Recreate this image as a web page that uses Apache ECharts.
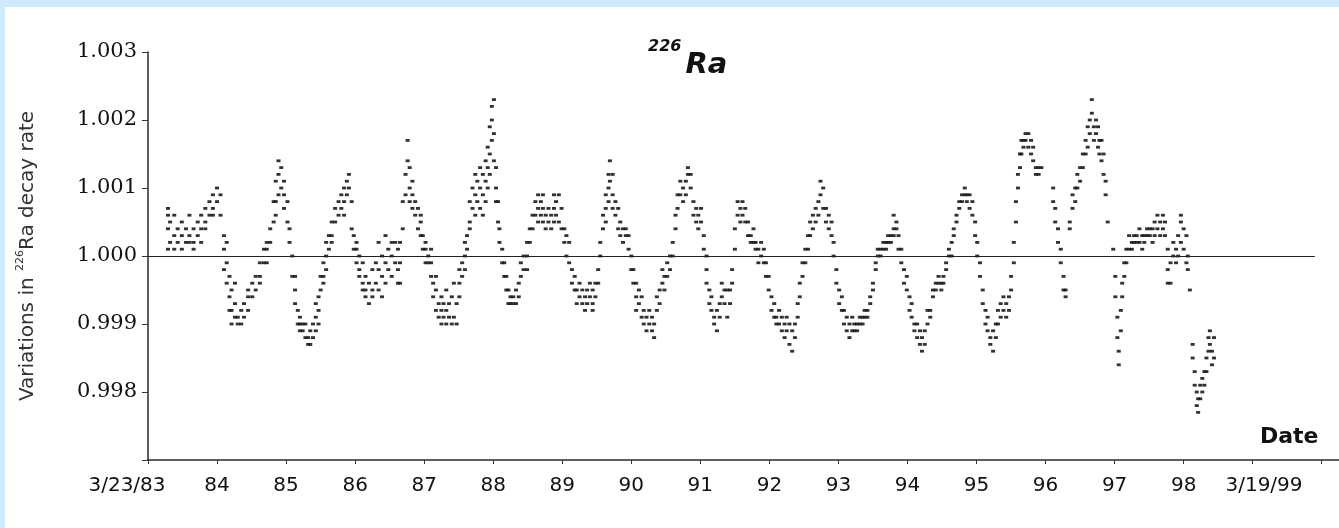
<!DOCTYPE html>
<html>
<head>
<meta charset="utf-8">
<title>226Ra decay rate</title>
<script src="https://cdn.jsdelivr.net/npm/echarts@6/dist/echarts.min.js"></script>
<style>
  html, body { margin: 0; padding: 0; background: #cdebfb; }
  #chart { position: absolute; left: 5px; top: 7px; width: 1334px; height: 521px; background: #ffffff; }
</style>
</head>
<body>
<div id="chart"></div>
<script>
// Relative 226Ra decay rate readings. Each row: [time (decimal year), reading, reading, ...]
const obs1983 = [
  [1983.51,1.0001,1.0004,1.0007,1.0006],[1983.54,1.0002,1.0005],[1983.60,1.0003,1.0001,1.0006],
  [1983.65,1.0002,1.0004],[1983.71,1.0003,1.0001,1.0005],[1983.77,1.0002,1.0004],
  [1983.82,1.0003,1.0006,1.0002],[1983.88,1.0002,1.0004,1.0001],[1983.94,1.0003,1.0005],
  [1983.99,1.0004,1.0002,1.0006]
];
const obs1984 = [
  [1984.05,1.0005,1.0007,1.0004],[1984.11,1.0006,1.0008],[1984.16,1.0007,1.0009,1.0006],
  [1984.22,1.0010,1.0008],[1984.27,1.0009,1.0006],[1984.32,1.0003,1.0001,0.9998],
  [1984.36,1.0002,0.9999,0.9996],[1984.40,0.9997,0.9994,0.9992],[1984.43,0.9995,0.9992,0.9990],
  [1984.48,0.9993,0.9991,0.9996],[1984.52,0.9991,0.9990],[1984.57,0.9990,0.9992],
  [1984.61,0.9991,0.9993],[1984.67,0.9992,0.9994,0.9995],[1984.73,0.9994,0.9996],
  [1984.78,0.9995,0.9997],[1984.84,0.9997,0.9999,0.9996],[1984.90,0.9999,1.0001],
  [1984.94,1.0001,1.0002,0.9999],[1984.99,1.0002,1.0004]
];
const obs1985 = [
  [1985.04,1.0005,1.0008],[1985.07,1.0008,1.0011,1.0006],[1985.11,1.0012,1.0014,1.0009],
  [1985.15,1.0010,1.0013],[1985.19,1.0009,1.0011,1.0007],[1985.24,1.0008,1.0005],
  [1985.27,1.0004,1.0002],[1985.31,1.0000,0.9997],[1985.35,0.9995,0.9993,0.9997],
  [1985.39,0.9992,0.9990],[1985.42,0.9989,0.9991,0.9990],[1985.46,0.9990,0.9989],
  [1985.50,0.9988,0.9990],[1985.54,0.9988,0.9987],[1985.57,0.9987,0.9989],
  [1985.61,0.9988,0.9990],[1985.65,0.9989,0.9991,0.9993],[1985.69,0.9992,0.9994,0.9990],
  [1985.72,0.9995,0.9997],[1985.76,0.9997,0.9999,0.9996],[1985.80,1.0000,0.9998,1.0002],
  [1985.84,1.0001,1.0003],[1985.88,1.0003,1.0005,1.0002],[1985.93,1.0005,1.0007],
  [1985.98,1.0006,1.0008]
];
const obs1986 = [
  [1986.02,1.0007,1.0009],[1986.06,1.0006,1.0010,1.0008],[1986.10,1.0011,1.0009],
  [1986.13,1.0012,1.0010],[1986.17,1.0008,1.0004],[1986.20,1.0003,1.0001],
  [1986.24,1.0002,0.9999,1.0001],[1986.28,0.9998,0.9997,1.0000],[1986.33,0.9996,0.9995,0.9999],
  [1986.37,0.9994,0.9997,0.9995],[1986.42,0.9993,0.9996],[1986.47,0.9995,0.9998,0.9994],
  [1986.52,0.9996,0.9999],[1986.56,0.9995,0.9998,1.0002],[1986.61,0.9997,1.0000,0.9994],
  [1986.66,0.9996,0.9999,1.0003],[1986.70,0.9998,1.0001],[1986.75,0.9997,1.0000,1.0002],
  [1986.80,0.9999,1.0002],[1986.84,0.9998,1.0001,0.9996],[1986.87,1.0002,0.9999,0.9996],
  [1986.91,1.0004,1.0008],[1986.95,1.0012,1.0009],[1986.98,1.0017,1.0014]
];
const obs1987 = [
  [1987.01,1.0013,1.0010,1.0008],[1987.05,1.0011,1.0009,1.0007],[1987.09,1.0008,1.0006],
  [1987.13,1.0007,1.0004],[1987.17,1.0005,1.0003,1.0006],[1987.20,1.0003,1.0001],
  [1987.24,1.0001,0.9999,1.0002],[1987.28,1.0000,0.9999],[1987.32,0.9999,0.9997,1.0001],
  [1987.35,0.9996,0.9994],[1987.39,0.9995,0.9992,0.9997],[1987.43,0.9993,0.9991],
  [1987.47,0.9992,0.9994,0.9990],[1987.50,0.9991,0.9993],[1987.54,0.9992,0.9990,0.9995],
  [1987.58,0.9991,0.9993],[1987.62,0.9990,0.9994],[1987.65,0.9991,0.9996],
  [1987.69,0.9990,0.9993],[1987.73,0.9996,0.9998,0.9994],[1987.77,0.9999,0.9997],
  [1987.81,1.0000,1.0002,0.9998],[1987.84,1.0003,1.0001],[1987.88,1.0005,1.0008,1.0004],
  [1987.92,1.0007,1.0010],[1987.96,1.0009,1.0006,1.0012],[1987.99,1.0008,1.0011]
];
const obs1988 = [
  [1988.03,1.0010,1.0013,1.0007],[1988.07,1.0012,1.0009,1.0006],[1988.11,1.0014,1.0011,1.0008],
  [1988.14,1.0016,1.0013,1.0010],[1988.17,1.0019,1.0015,1.0012],[1988.20,1.0022,1.0020,1.0017],
  [1988.23,1.0023,1.0018,1.0014],[1988.26,1.0013,1.0010,1.0008],[1988.29,1.0008,1.0005],
  [1988.31,1.0004,1.0002],[1988.35,1.0001,0.9999],[1988.38,0.9999,0.9997],
  [1988.41,0.9997,0.9995],[1988.44,0.9995,0.9993],[1988.47,0.9993,0.9994],
  [1988.51,0.9994,0.9993],[1988.55,0.9995,0.9993],[1988.59,0.9996,0.9994],
  [1988.62,0.9997,0.9999],[1988.66,0.9998,1.0000],[1988.71,1.0000,1.0002,0.9998],
  [1988.75,1.0002,1.0004],[1988.79,1.0004,1.0006],[1988.83,1.0006,1.0008],
  [1988.87,1.0007,1.0009,1.0005],[1988.91,1.0008,1.0006],[1988.94,1.0009,1.0007,1.0005],
  [1988.98,1.0006,1.0004]
];
const obs1989 = [
  [1989.02,1.0005,1.0007],[1989.06,1.0004,1.0006],[1989.10,1.0005,1.0007,1.0009],
  [1989.13,1.0008,1.0006],[1989.17,1.0009,1.0005],[1989.21,1.0007,1.0004],
  [1989.25,1.0004,1.0002],[1989.28,1.0003,1.0000],[1989.32,1.0002,0.9999],
  [1989.36,0.9998,0.9996],[1989.40,0.9997,0.9995],[1989.43,0.9995,0.9993],
  [1989.47,0.9994,0.9996],[1989.51,0.9993,0.9995],[1989.55,0.9994,0.9992],
  [1989.58,0.9995,0.9993],[1989.62,0.9994,0.9996],[1989.66,0.9993,0.9995,0.9992],
  [1989.70,0.9994,0.9996],[1989.74,0.9996,0.9998],[1989.77,1.0000,1.0002],
  [1989.81,1.0004,1.0006],[1989.85,1.0007,1.0009,1.0005],[1989.89,1.0010,1.0012,1.0008],
  [1989.91,1.0014,1.0011],[1989.95,1.0012,1.0009,1.0007],[1989.99,1.0008,1.0006]
];
const obs1990 = [
  [1990.03,1.0007,1.0004],[1990.06,1.0005,1.0003],[1990.10,1.0004,1.0002],
  [1990.14,1.0003,1.0004],[1990.18,1.0003,1.0001],[1990.22,1.0000,0.9998],
  [1990.25,0.9996,0.9998],[1990.29,0.9994,0.9996,0.9992],[1990.33,0.9993,0.9995],
  [1990.37,0.9991,0.9994],[1990.40,0.9992,0.9990],[1990.44,0.9991,0.9989],
  [1990.48,0.9990,0.9992],[1990.52,0.9989,0.9991],[1990.55,0.9988,0.9990],
  [1990.59,0.9992,0.9994],[1990.63,0.9995,0.9993],[1990.67,0.9996,0.9998],
  [1990.70,0.9997,0.9995],[1990.74,0.9999,0.9997],[1990.78,1.0000,0.9998],
  [1990.82,1.0002,1.0000],[1990.86,1.0004,1.0006],[1990.89,1.0007,1.0009],
  [1990.93,1.0009,1.0011],[1990.97,1.0010,1.0008]
];
const obs1991 = [
  [1991.01,1.0011,1.0009],[1991.04,1.0013,1.0012],[1991.08,1.0012,1.0010],
  [1991.12,1.0006,1.0008],[1991.16,1.0007,1.0005],[1991.19,1.0006,1.0004],
  [1991.23,1.0005,1.0007],[1991.27,1.0003,1.0001],[1991.31,1.0000,0.9998,0.9996],
  [1991.35,0.9995,0.9993],[1991.38,0.9992,0.9994],[1991.42,0.9991,0.9990],
  [1991.46,0.9989,0.9992],[1991.50,0.9993,0.9991],[1991.53,0.9994,0.9996],
  [1991.57,0.9993,0.9995],[1991.61,0.9995,0.9991],[1991.65,0.9993,0.9995],
  [1991.68,0.9996,0.9998],[1991.72,1.0001,1.0004],[1991.76,1.0006,1.0008],
  [1991.80,1.0007,1.0005],[1991.83,1.0006,1.0008],[1991.87,1.0005,1.0007],
  [1991.91,1.0003,1.0005],[1991.95,1.0003,1.0002],[1991.99,1.0004,1.0002]
];
const obs1992 = [
  [1992.02,1.0002,1.0001],[1992.06,1.0001,0.9999],[1992.10,1.0000,1.0002],
  [1992.14,0.9999,1.0001],[1992.17,0.9997,0.9999],[1992.21,0.9995,0.9997],
  [1992.25,0.9994,0.9992],[1992.29,0.9993,0.9991],[1992.32,0.9991,0.9990],
  [1992.36,0.9990,0.9992],[1992.40,0.9989,0.9991],[1992.44,0.9990,0.9988],
  [1992.47,0.9989,0.9991],[1992.51,0.9987,0.9990],[1992.55,0.9986,0.9989],
  [1992.59,0.9988,0.9990],[1992.63,0.9991,0.9993],[1992.66,0.9994,0.9996],
  [1992.70,0.9997,0.9999],[1992.74,0.9999,1.0001],[1992.78,1.0001,1.0003],
  [1992.81,1.0003,1.0005],[1992.85,1.0004,1.0006],[1992.89,1.0005,1.0007],
  [1992.93,1.0008,1.0006],[1992.96,1.0011,1.0009]
];
const obs1993 = [
  [1993.00,1.0010,1.0007],[1993.04,1.0007,1.0005],[1993.08,1.0006,1.0004],
  [1993.12,1.0005,1.0003],[1993.15,1.0002,1.0000],[1993.19,0.9998,0.9996],
  [1993.23,0.9995,0.9993],[1993.27,0.9992,0.9994],[1993.30,0.9990,0.9992],
  [1993.34,0.9989,0.9991],[1993.38,0.9990,0.9988],[1993.42,0.9989,0.9991],
  [1993.45,0.9989,0.9990],[1993.49,0.9990,0.9989],[1993.53,0.9990,0.9991],
  [1993.57,0.9991,0.9990],[1993.60,0.9991,0.9992],[1993.64,0.9992,0.9991],
  [1993.68,0.9993,0.9994],[1993.72,0.9995,0.9996],[1993.76,0.9998,0.9999],
  [1993.79,1.0000,1.0001],[1993.83,1.0001,1.0000],[1993.87,1.0001,1.0002],
  [1993.91,1.0002,1.0001],[1993.94,1.0002,1.0003],[1993.98,1.0003,1.0002]
];
const obs1994 = [
  [1994.02,1.0003,1.0004,1.0006],[1994.06,1.0005,1.0004],[1994.09,1.0003,1.0001],
  [1994.13,1.0001,0.9999],[1994.17,0.9998,0.9996],[1994.21,0.9995,0.9997],
  [1994.25,0.9994,0.9992],[1994.28,0.9991,0.9993],[1994.32,0.9990,0.9989],
  [1994.36,0.9988,0.9990],[1994.40,0.9987,0.9989],[1994.43,0.9986,0.9988],
  [1994.47,0.9987,0.9989],[1994.51,0.9990,0.9992],[1994.55,0.9992,0.9991],
  [1994.59,0.9994,0.9995],[1994.63,0.9996,0.9995],[1994.67,0.9996,0.9997],
  [1994.71,0.9995,0.9996],[1994.74,0.9997,0.9996],[1994.78,0.9998,0.9999],
  [1994.82,1.0000,1.0001],[1994.86,1.0002,1.0000],[1994.89,1.0004,1.0003],
  [1994.93,1.0006,1.0005],[1994.97,1.0007,1.0008]
];
const obs1995 = [
  [1995.01,1.0009,1.0008],[1995.05,1.0009,1.0010],[1995.08,1.0008,1.0009],
  [1995.12,1.0009,1.0007],[1995.16,1.0008,1.0006],[1995.20,1.0005,1.0003],
  [1995.23,1.0002,1.0000],[1995.27,0.9999,0.9997],[1995.31,0.9995,0.9993],
  [1995.35,0.9992,0.9990],[1995.38,0.9989,0.9991],[1995.42,0.9988,0.9987],
  [1995.46,0.9986,0.9989],[1995.50,0.9988,0.9990],[1995.53,0.9990,0.9992],
  [1995.57,0.9991,0.9993],[1995.61,0.9992,0.9994],[1995.65,0.9993,0.9991],
  [1995.69,0.9992,0.9994],[1995.72,0.9995,0.9997],[1995.76,0.9999,1.0002],
  [1995.79,1.0005,1.0008],[1995.82,1.0010,1.0012],[1995.85,1.0013,1.0015],
  [1995.87,1.0015,1.0017],[1995.90,1.0017,1.0016],[1995.93,1.0018,1.0017],
  [1995.97,1.0016,1.0018]
];
const obs1996 = [
  [1996.01,1.0017,1.0015],[1996.04,1.0014,1.0016],[1996.08,1.0013,1.0012],
  [1996.12,1.0013,1.0012],[1996.16,1.0013],[1996.33,1.0010,1.0008],
  [1996.36,1.0007,1.0005],[1996.40,1.0004,1.0002],[1996.44,1.0001,0.9999],
  [1996.48,0.9997,0.9995],[1996.51,0.9995,0.9994],[1996.57,1.0005,1.0004],
  [1996.61,1.0007,1.0009],[1996.65,1.0010,1.0008],[1996.68,1.0012,1.0010],
  [1996.72,1.0013,1.0011],[1996.76,1.0015,1.0013],[1996.80,1.0017,1.0015],
  [1996.83,1.0019,1.0016],[1996.86,1.0020,1.0018],[1996.89,1.0023,1.0021],
  [1996.92,1.0019,1.0017],[1996.95,1.0020,1.0018],[1996.98,1.0016,1.0019]
];
const obs1997 = [
  [1997.00,1.0015,1.0017],[1997.03,1.0017,1.0014],[1997.06,1.0015,1.0012],
  [1997.09,1.0011,1.0009],[1997.12,1.0005],[1997.20,1.0001],[1997.23,0.9997,0.9994],
  [1997.26,0.9991,0.9988],[1997.28,0.9986,0.9984],[1997.31,0.9989,0.9992],
  [1997.33,0.9994,0.9996],[1997.36,0.9997,0.9999],[1997.39,0.9999,1.0001],
  [1997.43,1.0001,1.0003],[1997.47,1.0002,1.0001],[1997.50,1.0003,1.0002],
  [1997.54,1.0002,1.0003],[1997.58,1.0002,1.0004],[1997.62,1.0003,1.0001],
  [1997.65,1.0002,1.0003],[1997.69,1.0003,1.0004],[1997.73,1.0003,1.0004],
  [1997.77,1.0004,1.0002],[1997.80,1.0003,1.0005],[1997.84,1.0004,1.0006],
  [1997.88,1.0005,1.0003],[1997.92,1.0004,1.0006],[1997.95,1.0005,1.0003],
  [1997.99,0.9998,0.9996,1.0001]
];
const obs1998 = [
  [1998.03,0.9996,0.9999],[1998.07,1.0000,1.0002],[1998.11,1.0001,0.9999],
  [1998.14,1.0000,1.0003],[1998.18,1.0005,1.0006,1.0002],[1998.22,1.0004,1.0001],
  [1998.26,1.0003,0.9999],[1998.28,1.0000,0.9998],[1998.31,0.9995],
  [1998.35,0.9987,0.9985],[1998.38,0.9983,0.9981],[1998.41,0.9980,0.9978],
  [1998.43,0.9979,0.9977],[1998.46,0.9981,0.9979],[1998.49,0.9980,0.9982],
  [1998.52,0.9983,0.9981],[1998.55,0.9985,0.9983],[1998.58,0.9986,0.9988],
  [1998.60,0.9987,0.9989],[1998.63,0.9984,0.9986],[1998.66,0.9985,0.9988]
];

// Date axis: yearly ticks counted from the 3/23/83 start, and their labels
const tickYears = [1983.22, 1984.22, 1985.22, 1986.22, 1987.22, 1988.22, 1989.22, 1990.22, 1991.22,
                   1992.22, 1993.22, 1994.22, 1995.22, 1996.22, 1997.22, 1998.22, 1999.21];
const tickLabels = ['3/23/83', '84', '85', '86', '87', '88', '89', '90', '91',
                    '92', '93', '94', '95', '96', '97', '98', '3/19/99'];
const trailingTick = 2000.22;
const timeRange = [1983.22, 2000.47];
const rateRange = [0.997, 1.003];
const rateStep = 0.001;
const unityLineEnd = 2000.12;

const runs = [obs1983, obs1984, obs1985, obs1986, obs1987, obs1988, obs1989, obs1990, obs1991,
              obs1992, obs1993, obs1994, obs1995, obs1996, obs1997, obs1998];
const points = [];
runs.forEach(run => run.forEach(row => {
  for (let i = 1; i < row.length; i++) points.push([row[0], row[i]]);
}));

function labelFor(v) {
  for (let i = 0; i < tickYears.length; i++) {
    if (Math.abs(tickYears[i] - v) < 0.005) {
      if (i === 0) return '{first|' + tickLabels[i] + '}';
      if (i === tickYears.length - 1) return '{last|' + tickLabels[i] + '}';
      return tickLabels[i];
    }
  }
  return '';
}

const sansLabel = { fontFamily: 'DejaVu Sans', fontSize: 20, color: '#111' };

const chart = echarts.init(document.getElementById('chart'), null, { renderer: 'canvas' });
chart.setOption({
  animation: false,
  backgroundColor: '#ffffff',
  title: {
    text: '{sup|226}{el|Ra}',
    left: 643,
    top: 32,
    padding: 0,
    textStyle: {
      rich: {
        sup: { fontFamily: 'DejaVu Sans', fontWeight: 'bold', fontStyle: 'italic', fontSize: 16,
               lineHeight: 18, verticalAlign: 'top', color: '#111' },
        el: { fontFamily: 'DejaVu Sans', fontWeight: 'bold', fontStyle: 'italic', fontSize: 29,
              lineHeight: 41, verticalAlign: 'bottom', padding: [0, 0, 0, 4], color: '#111' }
      }
    }
  },
  graphic: [{
    type: 'text', left: 1255, top: 419,
    style: { text: 'Date', font: 'bold 22px "DejaVu Sans"', fill: '#111' }
  }],
  grid: { left: 143, right: 0, top: 45, bottom: 68, containLabel: false },
  xAxis: {
    type: 'value',
    min: timeRange[0],
    max: timeRange[1],
    axisLine: { show: true, onZero: false, lineStyle: { color: '#2a2a2a', width: 1.5 } },
    axisTick: { show: true, customValues: tickYears.concat([trailingTick]), length: 4,
                lineStyle: { color: '#333', width: 1 } },
    axisLabel: {
      customValues: tickYears, formatter: labelFor, margin: 16,
      fontFamily: sansLabel.fontFamily, fontSize: sansLabel.fontSize, color: sansLabel.color,
      rich: {
        first: Object.assign({ padding: [0, 42, 0, 0] }, sansLabel),
        last: Object.assign({ padding: [0, 0, 0, 24] }, sansLabel)
      }
    },
    splitLine: { show: false }
  },
  yAxis: {
    type: 'value',
    min: rateRange[0],
    max: rateRange[1],
    interval: rateStep,
    name: '{t|Variations in }{s|226}{t|Ra decay rate}',
    nameLocation: 'middle',
    nameRotate: 90,
    nameGap: 108,
    nameTextStyle: {
      rich: {
        t: { fontFamily: 'DejaVu Sans', fontSize: 20, lineHeight: 25, color: '#333' },
        s: { fontFamily: 'DejaVu Sans', fontSize: 11, lineHeight: 11, verticalAlign: 'top', color: '#333' }
      }
    },
    axisLine: { show: true, onZero: false, lineStyle: { color: '#2a2a2a', width: 1.5 } },
    axisTick: { show: true, length: 6, lineStyle: { color: '#333', width: 1 } },
    axisLabel: {
      formatter: v => (v < rateRange[0] + rateStep / 2 ? '' : v.toFixed(3)),
      fontFamily: 'DejaVu Serif', fontSize: 21, color: '#111', margin: 11
    },
    splitLine: { show: false }
  },
  series: [{
    type: 'scatter',
    data: points,
    symbol: 'rect',
    symbolSize: [4, 2.8],
    itemStyle: { color: '#1c1c1c', opacity: 0.9 },
    silent: true,
    markLine: {
      silent: true,
      symbol: ['none', 'none'],
      label: { show: false },
      lineStyle: { color: '#222', width: 1.2, type: 'solid' },
      data: [[{ coord: [timeRange[0], 1] }, { coord: [unityLineEnd, 1] }]]
    }
  }]
});
</script>
</body>
</html>
